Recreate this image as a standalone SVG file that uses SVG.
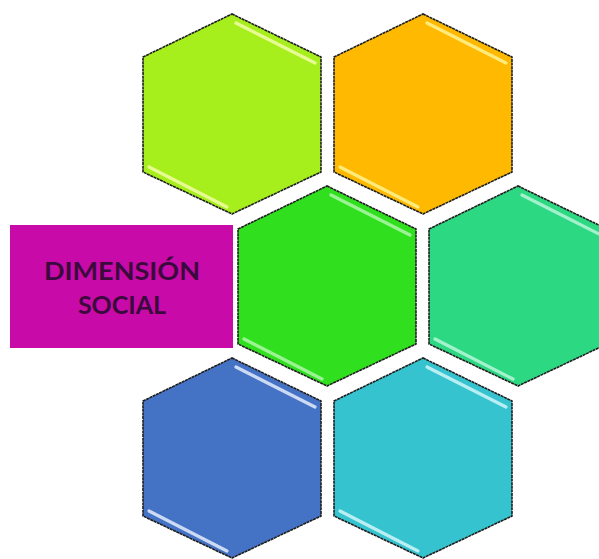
<svg xmlns="http://www.w3.org/2000/svg" xmlns:xlink="http://www.w3.org/1999/xlink" width="599" height="559" viewBox="0 0 599 559">
<style>
.hex{stroke:#1e1e1e;stroke-width:1.6;stroke-dasharray:3 0.6}
.hl{fill:none;stroke-width:3.2;stroke-linecap:round}
.lbl{font-family:Lato,"Open Sans","Liberation Sans",sans-serif;font-weight:bold;font-size:25px;fill:#3b0a3d;text-anchor:middle}
</style>
<defs>
<path id="hexShape" d="M0,-100 L89,-57 L89,58 L0,100 L-89,58 L-89,-57 Z"/>
<path id="hlTop" d="M4,-91 L83,-51"/>
<path id="hlBot" d="M-83,53 L-5,93"/>
</defs>
<rect width="599" height="559" fill="#ffffff"/>
<g id="hex-lime" transform="translate(232,114)">
<use xlink:href="#hexShape" class="hex" fill="#a6ef1c"/>
<use xlink:href="#hlTop" class="hl" stroke="#eefca0" opacity="0.9"/>
<use xlink:href="#hlBot" class="hl" stroke="#eefca0" opacity="0.9"/>
</g>
<g id="hex-orange" transform="translate(423,114)">
<use xlink:href="#hexShape" class="hex" fill="#feb900"/>
<use xlink:href="#hlTop" class="hl" stroke="#fff08a" opacity="0.9"/>
<use xlink:href="#hlBot" class="hl" stroke="#fff08a" opacity="0.9"/>
</g>
<g id="hex-green" transform="translate(327,286)">
<use xlink:href="#hexShape" class="hex" fill="#30e01f"/>
<use xlink:href="#hlTop" class="hl" stroke="#a8f5a0" opacity="0.9"/>
<use xlink:href="#hlBot" class="hl" stroke="#a8f5a0" opacity="0.9"/>
</g>
<g id="hex-teal" transform="translate(518,286)">
<use xlink:href="#hexShape" class="hex" fill="#2dd882"/>
<use xlink:href="#hlTop" class="hl" stroke="#b0f5d5" opacity="0.9"/>
<use xlink:href="#hlBot" class="hl" stroke="#b0f5d5" opacity="0.9"/>
</g>
<g id="hex-blue" transform="translate(232,458)">
<use xlink:href="#hexShape" class="hex" fill="#4472c4"/>
<use xlink:href="#hlTop" class="hl" stroke="#dbe6f8" opacity="0.9"/>
<use xlink:href="#hlBot" class="hl" stroke="#dbe6f8" opacity="0.9"/>
</g>
<g id="hex-cyan" transform="translate(423,458)">
<use xlink:href="#hexShape" class="hex" fill="#35c3cf"/>
<use xlink:href="#hlTop" class="hl" stroke="#c8f4f6" opacity="0.9"/>
<use xlink:href="#hlBot" class="hl" stroke="#c8f4f6" opacity="0.9"/>
</g>
<g id="label-box">
<rect x="10" y="225" width="223" height="123" fill="#c80aa8"/>
<text class="lbl" x="122" y="280" textLength="156" lengthAdjust="spacingAndGlyphs">DIMENSIÓN</text>
<text class="lbl" x="122" y="314">SOCIAL</text>
</g>
<g id="connectors"/>
</svg>
